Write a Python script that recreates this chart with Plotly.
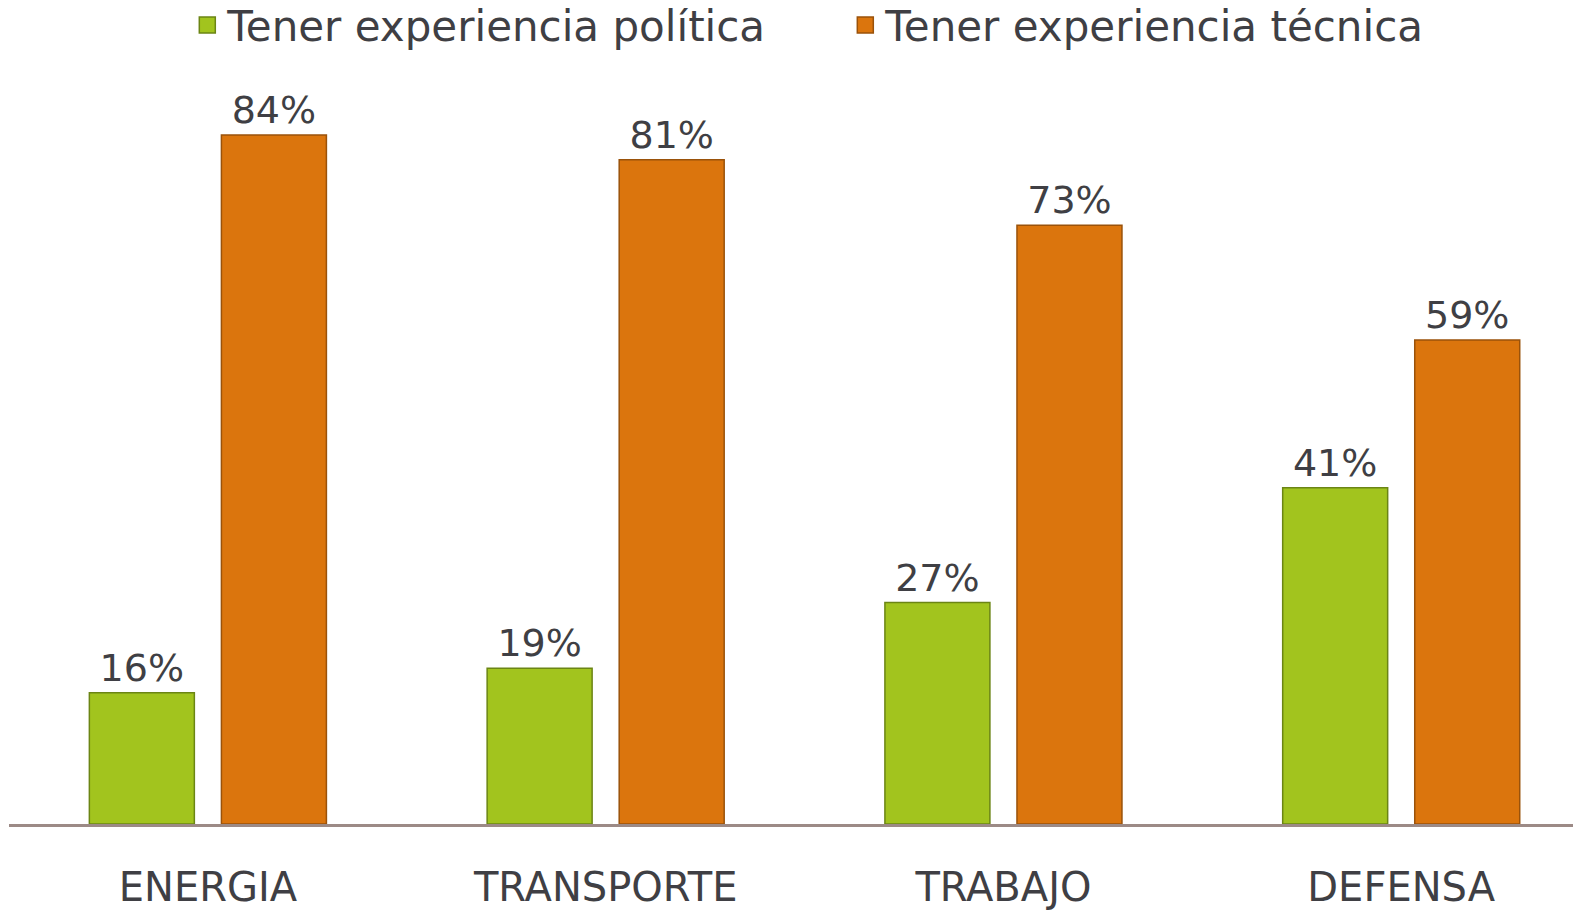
import plotly.graph_objects as go

categories = ["ENERGIA", "TRANSPORTE", "TRABAJO", "DEFENSA"]
politica = [16, 19, 27, 41]
tecnica = [84, 81, 73, 59]
series_names = ["Tener experiencia política", "Tener experiencia técnica"]

_GREEN = "#a2c41e"
_GREEN_EDGE = "#6b8514"
_ORANGE = "#db750d"
_ORANGE_EDGE = "#9a520a"
_TEXT = "#3f3f44"
_FONT = "Century Gothic, DejaVu Sans, sans-serif"

fig = go.Figure()
for vals, name, col, edge in [(politica, series_names[0], _GREEN, _GREEN_EDGE),
                              (tecnica, series_names[1], _ORANGE, _ORANGE_EDGE)]:
    fig.add_trace(go.Bar(
        x=categories, y=vals, name=name, showlegend=False,
        marker=dict(color=col, line=dict(color=edge, width=1.5)),
        texttemplate="%{y}%", textposition="outside", constraintext="none",
        textfont=dict(size=38, color=_TEXT), cliponaxis=False,
    ))
    # legend-only swatch, bigger than the default bar swatch
    fig.add_trace(go.Scatter(
        x=[None], y=[None], mode="markers", name=name,
        marker=dict(symbol="square", size=22, color=col, line=dict(color=edge, width=1.5)),
    ))

# page body has an 8px margin, so the figure is 8px smaller than the window
fig.update_layout(
    width=1573, height=903,
    barmode="group", bargap=0.336, bargroupgap=0.205,
    margin=dict(l=1, r=0, t=0, b=87, autoexpand=False),
    paper_bgcolor="white", plot_bgcolor="white",
    font=dict(family=_FONT, color=_TEXT, size=38),
    showlegend=True,
    legend=dict(
        orientation="h", x=0.532, xanchor="center",
        yref="container", y=0.981, yanchor="middle",
        font=dict(size=42, color=_TEXT), entrywidth=613, entrywidthmode="pixels",
        itemwidth=30, bgcolor="rgba(0,0,0,0)",
    ),
    xaxis=dict(
        range=[-0.5, 3.452], showline=True, linecolor="#9c8a86", linewidth=3,
        ticks="", showgrid=False, tickfont=dict(size=40, color=_TEXT),
        ticklabelstandoff=26,
    ),
    yaxis=dict(range=[0, 99.49], visible=False, showgrid=False, zeroline=False),
)

fig.write_html("out.html")
